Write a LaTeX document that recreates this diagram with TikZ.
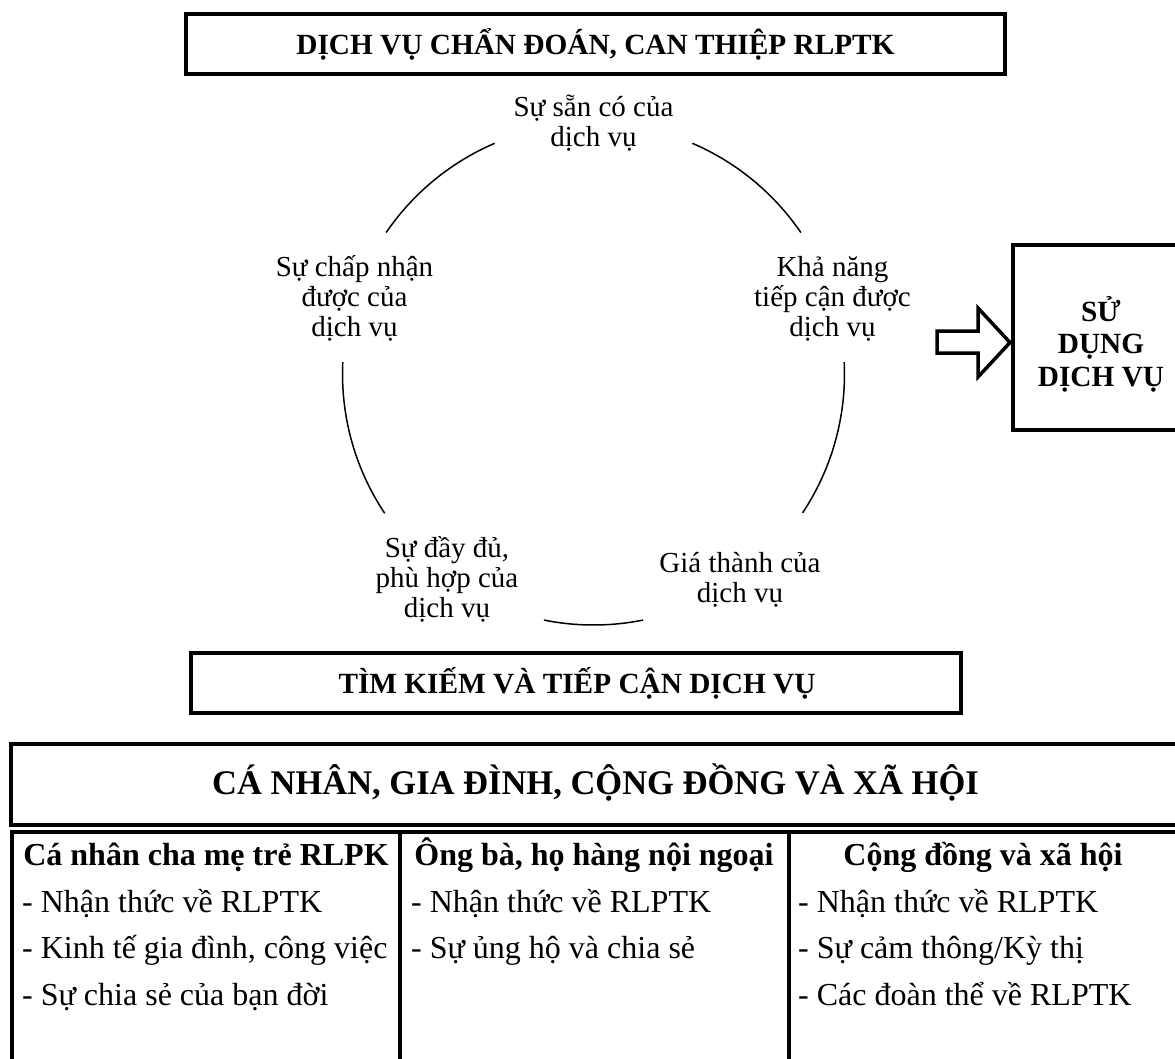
\documentclass[tikz,border=0pt]{standalone}
\usepackage{fontspec}
\setmainfont{Liberation Serif}
\begin{document}
\begin{tikzpicture}[x=1pt,y=-1pt,
  boxline/.style={draw=black, line width=4pt, line join=miter},
  circtext/.style={font=\fontsize{29}{30}\selectfont, align=center, inner sep=0pt, anchor=base},
  titletext/.style={font=\bfseries\fontsize{29.3}{32.5}\selectfont, align=center, inner sep=0pt, anchor=base},
  headtext/.style={font=\bfseries\fontsize{34.5}{40}\selectfont, inner sep=0pt, anchor=base},
  colhead/.style={font=\bfseries\fontsize{32}{40}\selectfont, inner sep=0pt, anchor=base},
  colitems/.style={font=\fontsize{32}{46.5}\selectfont, align=left, inner sep=0pt, anchor=base west},
  arcline/.style={draw=black, line width=1.5pt}
]
\useasboundingbox (0,0) rectangle (1175,1058);

% top box
\draw[boxline] (186,14) rectangle (1005,74);
\node[titletext] (dv) at (595.5,54) {DỊCH VỤ CHẨN ĐOÁN, CAN THIỆP RLPTK};

% circle labels (base = last line)
\coordinate (C) at (593.5,374);
\node[circtext] (l1) at (593.5,146.5) {Sự sẵn có của\\dịch vụ};
\node[circtext] (l2) at (832.5,336) {Khả năng\\tiếp cận được\\dịch vụ};
\node[circtext] (l3) at (740,602.5) {Giá thành của\\dịch vụ};
\node[circtext] (l4) at (447,617.5) {Sự đầy đủ,\\phù hợp của\\dịch vụ};
\node[circtext] (l5) at (354.5,336) {Sự chấp nhận\\được của\\dịch vụ};

% arcs of the circle
\foreach \a/\b in {-113.2/-145.7, -177.3/-213.7, -258.6/-281.4, -326.4/-362.7, -34.3/-66.8}
  \draw[arcline] ([shift={(\a:251)}]C) arc[start angle=\a, end angle=\b, radius=251];

% arrow and service-use box
\draw[line width=3.5pt, line join=miter] (937,331) -- (978,331) -- (978,308) -- (1010,342.5) -- (978,377) -- (978,353) -- (937,353) -- cycle;
\draw[boxline] (1012.5,245) rectangle (1192,430);
\node[titletext] (sd) at (1101,386) {SỬ\\DỤNG\\DỊCH VỤ};

% search box
\draw[boxline] (191,653) rectangle (961,713);
\node[titletext] (tk) at (577,693) {TÌM KIẾM VÀ TIẾP CẬN DỊCH VỤ};

% big box header
\draw[boxline] (11,744) rectangle (1190,825);
\node[headtext] (cn) at (595.5,794) {CÁ NHÂN, GIA ĐÌNH, CỘNG ĐỒNG VÀ XÃ HỘI};

% columns
\draw[boxline] (12,1075) -- (12,831.5) -- (1190,831.5);
\draw[boxline] (400,831.5) -- (400,1075);
\draw[boxline] (789,831.5) -- (789,1075);

\node[colhead] (h1) at (206,865) {Cá nhân cha mẹ trẻ RLPK};
\node[colhead] (h2) at (594,865) {Ông bà, họ hàng nội ngoại};
\node[colhead] (h3) at (983,865) {Cộng đồng và xã hội};

\node[colitems] (i1) at (22,1005) {- Nhận thức về RLPTK\\- Kinh tế gia đình, công việc\\- Sự chia sẻ của bạn đời};
\node[colitems] (i2) at (411,958.5) {- Nhận thức về RLPTK\\- Sự ủng hộ và chia sẻ};
\node[colitems] (i3) at (798,1005) {- Nhận thức về RLPTK\\- Sự cảm thông/Kỳ thị\\- Các đoàn thể về RLPTK};
\end{tikzpicture}
\end{document}
